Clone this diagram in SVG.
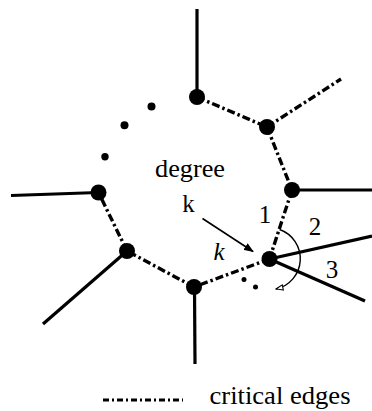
<svg xmlns="http://www.w3.org/2000/svg" width="372" height="411" viewBox="0 0 372 411">
<style>
.solid{stroke:#000;stroke-width:3.2;fill:none;stroke-linecap:butt}
.crit{stroke:#000;stroke-width:3.4;fill:none;stroke-dasharray:8 3 2.5 3}
.node{fill:#000}
text{fill:#000}
</style>
<defs>
<marker id="fa" viewBox="0 0 10 8" refX="9" refY="4" markerWidth="10" markerHeight="8" markerUnits="userSpaceOnUse" orient="auto">
<path d="M0,0 L10,4 L0,8 z" fill="#000"/>
</marker>
<marker id="oa" viewBox="0 0 10 8" refX="9" refY="4" markerWidth="9" markerHeight="7" markerUnits="userSpaceOnUse" orient="auto">
<path d="M1,1 L9,4 L1,7 z" fill="#fff" stroke="#000" stroke-width="1.2"/>
</marker>
</defs>
<g id="connectors">
<line class="solid" x1="197" y1="97" x2="197" y2="9"/>
<line class="solid" x1="292" y1="190" x2="372" y2="190"/>
<line class="solid" x1="98.5" y1="192.5" x2="11" y2="195.5"/>
<line class="solid" x1="127" y1="251" x2="43" y2="324"/>
<line class="solid" x1="194.5" y1="287" x2="195" y2="364"/>
<line class="solid" x1="269.5" y1="259" x2="372" y2="236"/>
<line class="solid" x1="269.5" y1="259" x2="365" y2="301"/>
<line class="crit" x1="197" y1="97" x2="267" y2="127"/>
<line class="crit" x1="267" y1="127" x2="341" y2="79"/>
<line class="crit" x1="267" y1="127" x2="292" y2="190"/>
<line class="crit" x1="292" y1="190" x2="269.5" y2="259"/>
<line class="crit" x1="269.5" y1="259" x2="194" y2="287"/>
<line class="crit" x1="194" y1="287" x2="127" y2="251"/>
<line class="crit" x1="127" y1="251" x2="98.5" y2="192.5"/>
<line stroke="#000" stroke-width="1.6" x1="202.5" y1="218.5" x2="253" y2="251.5" marker-end="url(#fa)"/>
<path d="M279.6 229.5 A31 31 0 0 1 276 289" fill="none" stroke="#000" stroke-width="1.4" marker-end="url(#oa)"/>
</g>
<g id="nodeA"><circle class="node" cx="197" cy="97" r="8"/></g>
<g id="nodeB"><circle class="node" cx="267" cy="127" r="8"/></g>
<g id="nodeC"><circle class="node" cx="292" cy="190" r="8"/></g>
<g id="nodeG"><circle class="node" cx="269.5" cy="259" r="8"/></g>
<g id="nodeF"><circle class="node" cx="194" cy="287" r="8"/></g>
<g id="nodeE"><circle class="node" cx="127" cy="251" r="8"/></g>
<g id="nodeD"><circle class="node" cx="98.5" cy="192.5" r="8"/></g>
<g id="dots">
<circle class="node" cx="151.5" cy="106.5" r="4"/>
<circle class="node" cx="124.5" cy="125.3" r="4"/>
<circle class="node" cx="105" cy="156.7" r="3.7"/>
<circle class="node" cx="244" cy="279.5" r="2.5"/>
<circle class="node" cx="255.5" cy="287" r="2.5"/>
</g>
<g id="labels" font-family="Liberation Serif, Times New Roman, serif" font-size="25">
<text x="190" y="177" text-anchor="middle" textLength="70" lengthAdjust="spacingAndGlyphs">degree</text>
<text x="188.5" y="212" text-anchor="middle">k</text>
<text x="219" y="260" text-anchor="middle" font-style="italic">k</text>
<text x="265" y="223" text-anchor="middle">1</text>
<text x="315" y="235" text-anchor="middle">2</text>
<text x="332" y="278" text-anchor="middle">3</text>
</g>
<g id="legend" font-family="Liberation Serif, Times New Roman, serif" font-size="25">
<line class="crit" x1="103" y1="400" x2="183" y2="400" style="stroke-dasharray:6 3 2 3;stroke-width:3"/>
<text x="209.5" y="404" textLength="141" lengthAdjust="spacingAndGlyphs">critical edges</text>
</g>
</svg>
